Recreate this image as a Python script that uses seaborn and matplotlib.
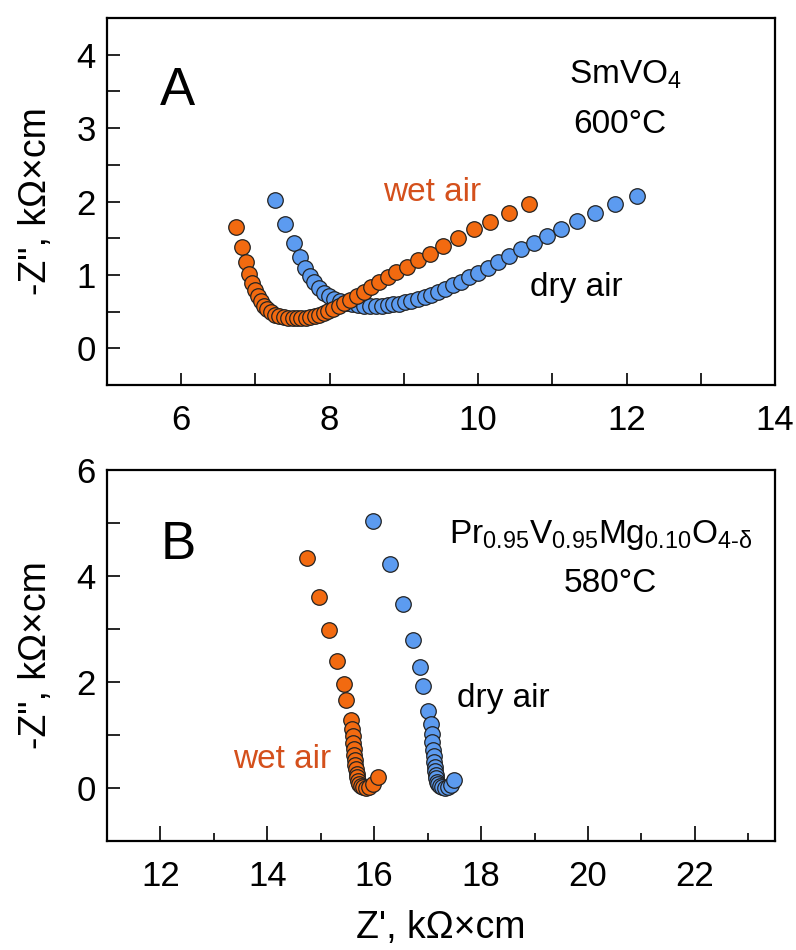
import matplotlib
matplotlib.use('Agg')
import matplotlib.pyplot as plt
from matplotlib.ticker import MultipleLocator
import pandas as pd
import seaborn as sns

# ----------------------------------------------------------------------------------------------------------------------
# Data (impedance spectra)
# ----------------------------------------------------------------------------------------------------------------------

# A: SmVO4, 600 C
a_wet_re = [6.74, 6.82, 6.87, 6.92, 6.96, 6.99, 7.03, 7.07, 7.11, 7.16,
            7.21, 7.26, 7.32, 7.38, 7.44, 7.50, 7.56, 7.62, 7.68, 7.74,
            7.80, 7.86, 7.92, 7.98, 8.05, 8.12, 8.20, 8.28, 8.37, 8.46,
            8.56, 8.67, 8.78, 8.90, 9.04, 9.19, 9.35, 9.53, 9.73, 9.95,
            10.16, 10.41, 10.68]
a_wet_im = [1.65, 1.38, 1.18, 1.01, 0.89, 0.79, 0.71, 0.64, 0.58, 0.53,
            0.49, 0.46, 0.44, 0.43, 0.42, 0.42, 0.42, 0.42, 0.42, 0.43,
            0.44, 0.46, 0.48, 0.51, 0.54, 0.58, 0.62, 0.66, 0.71, 0.77,
            0.83, 0.90, 0.97, 1.04, 1.11, 1.20, 1.29, 1.39, 1.50, 1.62,
            1.72, 1.84, 1.97]
a_dry_re = [7.26, 7.40, 7.52, 7.60, 7.67, 7.73, 7.79, 7.85, 7.92, 7.99,
            8.06, 8.14, 8.22, 8.30, 8.38, 8.46, 8.54, 8.62, 8.70, 8.78,
            8.86, 8.94, 9.02, 9.10, 9.19, 9.28, 9.37, 9.46, 9.56, 9.66,
            9.77, 9.88, 10.00, 10.13, 10.27, 10.42, 10.58, 10.75, 10.93, 11.12,
            11.33, 11.57, 11.84, 12.14]
a_dry_im = [2.02, 1.69, 1.44, 1.25, 1.10, 0.99, 0.90, 0.82, 0.76, 0.71,
            0.67, 0.64, 0.62, 0.60, 0.59, 0.58, 0.58, 0.58, 0.58, 0.59,
            0.60, 0.61, 0.63, 0.65, 0.67, 0.70, 0.73, 0.77, 0.81, 0.86,
            0.91, 0.97, 1.03, 1.10, 1.18, 1.26, 1.35, 1.44, 1.53, 1.63,
            1.74, 1.85, 1.96, 2.07]

# B: Pr0.95V0.95Mg0.10O4-d, 580 C
b_wet_re = [14.74, 14.97, 15.16, 15.31, 15.43, 15.48, 15.57, 15.59, 15.60, 15.61,
            15.62, 15.63, 15.64, 15.65, 15.66, 15.67, 15.68, 15.70, 15.72, 15.75,
            15.79, 15.84, 15.90, 15.97, 16.07]
b_wet_im = [4.33, 3.61, 2.98, 2.39, 1.96, 1.66, 1.28, 1.12, 0.98, 0.85,
            0.73, 0.62, 0.52, 0.43, 0.35, 0.27, 0.20, 0.14, 0.08, 0.04,
            0.01, 0.00, 0.02, 0.07, 0.20]
b_dry_re = [15.97, 16.29, 16.53, 16.73, 16.85, 16.92, 17.01, 17.06, 17.08, 17.09,
            17.10, 17.11, 17.12, 17.13, 17.14, 17.15, 17.16, 17.18, 17.20, 17.23,
            17.27, 17.32, 17.38, 17.44, 17.50]
b_dry_im = [5.03, 4.22, 3.48, 2.80, 2.28, 1.92, 1.46, 1.21, 1.02, 0.86,
            0.72, 0.60, 0.49, 0.40, 0.32, 0.25, 0.18, 0.12, 0.07, 0.03,
            0.01, 0.00, 0.02, 0.06, 0.15]

wet_color = '#F26A10'
dry_color = '#5C9BF0'
wet_text_color = '#D4501C'

sns.set_style('ticks')
plt.rcParams['font.family'] = ['Liberation Sans', 'DejaVu Sans']
plt.rcParams['mathtext.fontset'] = 'custom'
plt.rcParams['mathtext.rm'] = 'Liberation Sans'
plt.rcParams['mathtext.it'] = 'Liberation Sans:italic'
plt.rcParams['mathtext.default'] = 'regular'
plt.rcParams['axes.linewidth'] = 1.6
plt.rcParams['text.color'] = 'black'
plt.rcParams['axes.labelcolor'] = 'black'

fig = plt.figure(figsize=(7.96, 9.5), dpi=100)
ax_a = fig.add_axes([0.1344, 0.5947, 0.8392, 0.3863])
ax_b = fig.add_axes([0.1344, 0.1147, 0.8392, 0.3906])


def draw_series(ax, re, im, color):
    df = pd.DataFrame({'re': re, 'im': im})
    sns.scatterplot(data=df, x='re', y='im', ax=ax, color=color, s=125,
                    edgecolor='#222222', linewidth=0.9, zorder=3)


def style_axes(ax, x_major_len, x_minor_len):
    ax.xaxis.set_minor_locator(MultipleLocator(1))
    ax.tick_params(axis='both', which='both', direction='in', top=False, right=False,
                   width=1.2, colors='black', labelsize=25)
    ax.tick_params(axis='y', which='both', length=9, pad=8)
    ax.tick_params(axis='x', which='major', length=x_major_len, pad=14)
    ax.tick_params(axis='x', which='minor', length=x_minor_len)
    for spine in ax.spines.values():
        spine.set_visible(True)
        spine.set_color('black')
    ax.set_xlabel('')
    ax.set_ylabel('-Z", kΩ×cm', fontsize=27, labelpad=16)


# Panel A
draw_series(ax_a, a_dry_re, a_dry_im, dry_color)
draw_series(ax_a, a_wet_re, a_wet_im, wet_color)
ax_a.set_xlim(5, 14)
ax_a.set_ylim(-0.5, 4.5)
ax_a.set_xticks([6, 8, 10, 12, 14])
ax_a.set_yticks([0, 1, 2, 3, 4])
ax_a.yaxis.set_minor_locator(MultipleLocator(0.5))
style_axes(ax_a, 9, 9)
ax_a.text(0.106, 0.80, 'A', transform=ax_a.transAxes, fontsize=38, ha='center', va='center')
ax_a.text(11.98, 3.72, 'SmVO$_4$', fontsize=24, ha='center', va='center')
ax_a.text(11.91, 3.05, '600°C', fontsize=24, ha='center', va='center')
ax_a.text(9.38, 2.13, 'wet air', fontsize=24, color=wet_text_color, ha='center', va='center')
ax_a.text(11.33, 0.83, 'dry air', fontsize=24, ha='center', va='center')

# Panel B
draw_series(ax_b, b_dry_re, b_dry_im, dry_color)
draw_series(ax_b, b_wet_re, b_wet_im, wet_color)
ax_b.set_xlim(11, 23.5)
ax_b.set_ylim(-1, 6)
ax_b.set_xticks([12, 14, 16, 18, 20, 22])
ax_b.set_yticks([0, 2, 4, 6])
ax_b.yaxis.set_minor_locator(MultipleLocator(1))
style_axes(ax_b, 11, 6)
ax_b.text(12.33, 4.58, 'B', fontsize=38, ha='center', va='center')
ax_b.text(20.23, 4.78, r'Pr$_{0.95}$V$_{0.95}$Mg$_{0.10}$O$_{4\text{-}δ}$', fontsize=24,
          ha='center', va='center')
ax_b.text(20.42, 3.86, '580°C', fontsize=24, ha='center', va='center')
ax_b.text(18.42, 1.69, 'dry air', fontsize=24, ha='center', va='center')
ax_b.text(14.28, 0.53, 'wet air', fontsize=24, color=wet_text_color, ha='center', va='center')
ax_b.set_xlabel("Z', kΩ×cm", fontsize=27, labelpad=12)

fig.savefig('out.png', dpi=100)
